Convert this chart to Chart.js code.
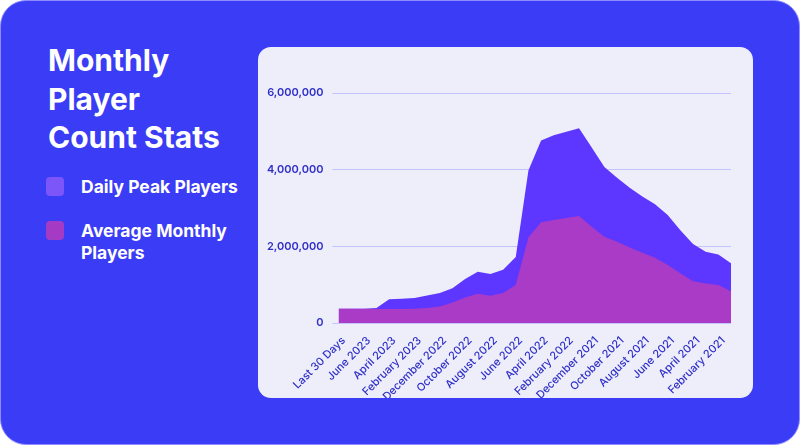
<!DOCTYPE html>
<html>
<head>
<meta charset="utf-8">
<script src="https://cdn.jsdelivr.net/npm/chart.js@4"></script>
<style>
  html, body { margin: 0; padding: 0; background: #ffffff; }
  body { width: 800px; height: 445px; position: relative; overflow: hidden; font-family: Inter, sans-serif; }
  .frame {
    position: absolute; left: 0; top: 0; width: 798px; height: 443px;
    background: #3b3cf5; border: 1px solid #8d8dff; border-radius: 26px;
  }
  .title {
    position: absolute; left: 48px; top: 41px; margin: 0;
    color: #fff; font-size: 30px; font-weight: 700; line-height: 38.5px;
  }
  .legend { position: absolute; left: 46px; color: #fff; font-size: 17.5px; font-weight: 700; line-height: 22px; }
  .legend .sw { position: absolute; left: 0; top: 0; width: 18px; height: 19px; border-radius: 4px; }
  .legend .tx { position: absolute; left: 35px; top: -1px; white-space: nowrap; }
  .card {
    position: absolute; left: 258px; top: 47px; width: 495px; height: 351px;
    background: #eeeefb; border-radius: 13px;
  }
  .card .box { position: absolute; left: 0; top: 0; width: 495px; height: 351px; }
</style>
</head>
<body>
<div class="frame"></div>
<h1 class="title">Monthly<br>Player<br>Count Stats</h1>
<div class="legend" style="top:177px"><span class="sw" style="background:#7c56f8"></span><span class="tx">Daily Peak Players</span></div>
<div class="legend" style="top:221px"><span class="sw" style="background:#a53bc5"></span><span class="tx">Average Monthly<br>Players</span></div>
<div class="card"><div class="box"><canvas id="chart"></canvas></div></div>
<script>
const months = [
  'Last 30 Days', 'July 2023', 'June 2023', 'May 2023', 'April 2023', 'March 2023',
  'February 2023', 'January 2023', 'December 2022', 'November 2022', 'October 2022',
  'September 2022', 'August 2022', 'July 2022', 'June 2022', 'May 2022', 'April 2022',
  'March 2022', 'February 2022', 'January 2022', 'December 2021', 'November 2021',
  'October 2021', 'September 2021', 'August 2021', 'July 2021', 'June 2021', 'May 2021',
  'April 2021', 'March 2021', 'February 2021', 'January 2021'
];
const peakPlayers = [
  370000, 372000, 375000, 390000, 620000, 630000, 650000, 715000, 780000, 905000,
  1150000, 1340000, 1280000, 1390000, 1720000, 3980000, 4760000, 4900000, 4990000, 5080000,
  4580000, 4070000, 3790000, 3530000, 3300000, 3100000, 2820000, 2420000, 2060000, 1860000,
  1790000, 1560000
];
const avgPlayers = [
  370000, 370000, 370000, 368000, 368000, 368000, 375000, 390000, 430000, 535000,
  665000, 765000, 710000, 785000, 990000, 2230000, 2630000, 2690000, 2740000, 2790000,
  2510000, 2250000, 2120000, 1970000, 1830000, 1700000, 1510000, 1300000, 1090000, 1030000,
  990000, 830000
];
const yTicks = [0, 2000000, 4000000, 6000000];

const tickColor = '#2f2fc8';

new Chart(document.getElementById('chart'), {
  type: 'line',
  data: {
    labels: months,
    datasets: [
      {
        label: 'Average Monthly Players',
        data: avgPlayers,
        fill: 'origin',
        backgroundColor: '#aa3bc6',
        borderWidth: 0,
        pointRadius: 0,
        tension: 0
      },
      {
        label: 'Daily Peak Players',
        data: peakPlayers,
        fill: 'origin',
        backgroundColor: '#5d36ff',
        borderWidth: 0,
        pointRadius: 0,
        tension: 0
      }
    ]
  },
  options: {
    responsive: true,
    maintainAspectRatio: false,
    animation: false,
    layout: { padding: { left: 0, right: 22, top: 46, bottom: 0 } },
    plugins: { legend: { display: false }, tooltip: { enabled: false } },
    scales: {
      x: {
        offset: false,
        grid: { display: false },
        border: { display: false },
        afterFit: (axis) => { axis.height = 75; axis.paddingLeft = 0; axis.paddingRight = 0; },
        ticks: {
          autoSkip: false,
          minRotation: 45,
          maxRotation: 45,
          padding: 3,
          labelOffset: 5,
          color: tickColor,
          font: { family: 'Inter', size: 11, weight: 500 },
          callback: (v, i) => (i % 2 === 0 ? months[i] : '')
        }
      },
      y: {
        min: 0,
        max: 6000000,
        z: 1,
        afterBuildTicks: (axis) => { axis.ticks = yTicks.map(v => ({ value: v })); },
        afterFit: (axis) => { axis.width = 80.5; axis.paddingTop = 0; axis.paddingBottom = 0; },
        grid: { color: 'rgba(180,180,255,0.75)', lineWidth: 1, tickLength: 6, drawTicks: true },
        border: { display: false },
        ticks: {
          padding: 9,
          color: tickColor,
          font: { family: 'Inter', size: 11, weight: 600 },
          callback: (v) => v.toLocaleString('en-US')
        }
      }
    }
  }
});
</script>
</body>
</html>
